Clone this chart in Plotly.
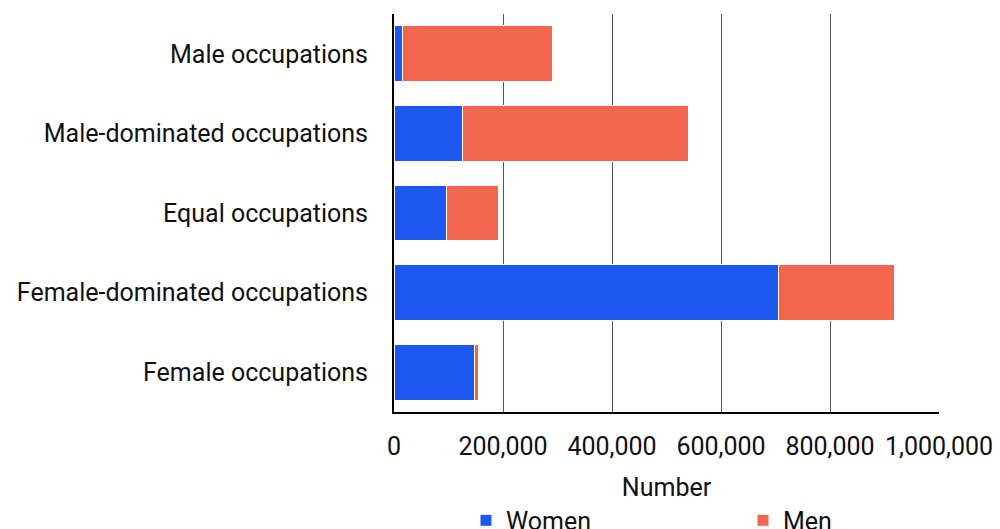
import plotly.graph_objects as go

categories = ["Male occupations", "Male-dominated occupations", "Equal occupations",
              "Female-dominated occupations", "Female occupations"]
women = [15000, 126000, 97000, 705000, 148000]
men = [276000, 415000, 94000, 214000, 6500]
x_ticks = [0, 200000, 400000, 600000, 800000, 1000000]

FONT = "Roboto"
FS = 25
fig = go.Figure()
fig.add_trace(go.Bar(y=categories, x=women, name="Women", orientation="h", legend="legend",
                     showlegend=True,
                     marker=dict(color="#1c57ee", line=dict(color="white", width=1))))
fig.add_trace(go.Bar(y=categories, x=men, name="Men", orientation="h", legend="legend2",
                     showlegend=True,
                     marker=dict(color="#f2664f", line=dict(color="white", width=1))))

LEG_Y = -0.215
fig.update_layout(
    barmode="stack",
    bargap=0.3,
    showlegend=True,
    width=1000, height=529,
    margin=dict(l=394, r=61, t=14, b=117, autoexpand=False),
    paper_bgcolor="white", plot_bgcolor="white",
    font=dict(family=FONT, size=FS, color="#111111"),
    legend=dict(orientation="h", x=0.1321, xanchor="left", y=LEG_Y, yanchor="top",
                font=dict(size=FS), bgcolor="rgba(0,0,0,0)", visible=True),
    legend2=dict(orientation="h", x=0.6404, xanchor="left", y=LEG_Y, yanchor="top",
                 font=dict(size=FS), bgcolor="rgba(0,0,0,0)", visible=True),
    xaxis=dict(range=[0, 1000000], tickvals=x_ticks, tickformat=",",
               showgrid=True, gridcolor="#555555", gridwidth=1,
               showline=True, linecolor="black", linewidth=2,
               ticks="outside", ticklen=11, tickcolor="rgba(0,0,0,0)",
               zeroline=False, automargin=False,
               title=dict(text="Number", standoff=18, font=dict(size=FS))),
    yaxis=dict(categoryorder="array", categoryarray=categories, autorange="reversed",
               showline=True, linecolor="black", linewidth=2,
               ticks="outside", ticklen=19, tickcolor="rgba(0,0,0,0)",
               showgrid=False, automargin=False),
)
fig.write_html("out.html", config={"displayModeBar": False},
               post_script="document.body.style.margin='0';document.body.style.overflow='hidden';")
